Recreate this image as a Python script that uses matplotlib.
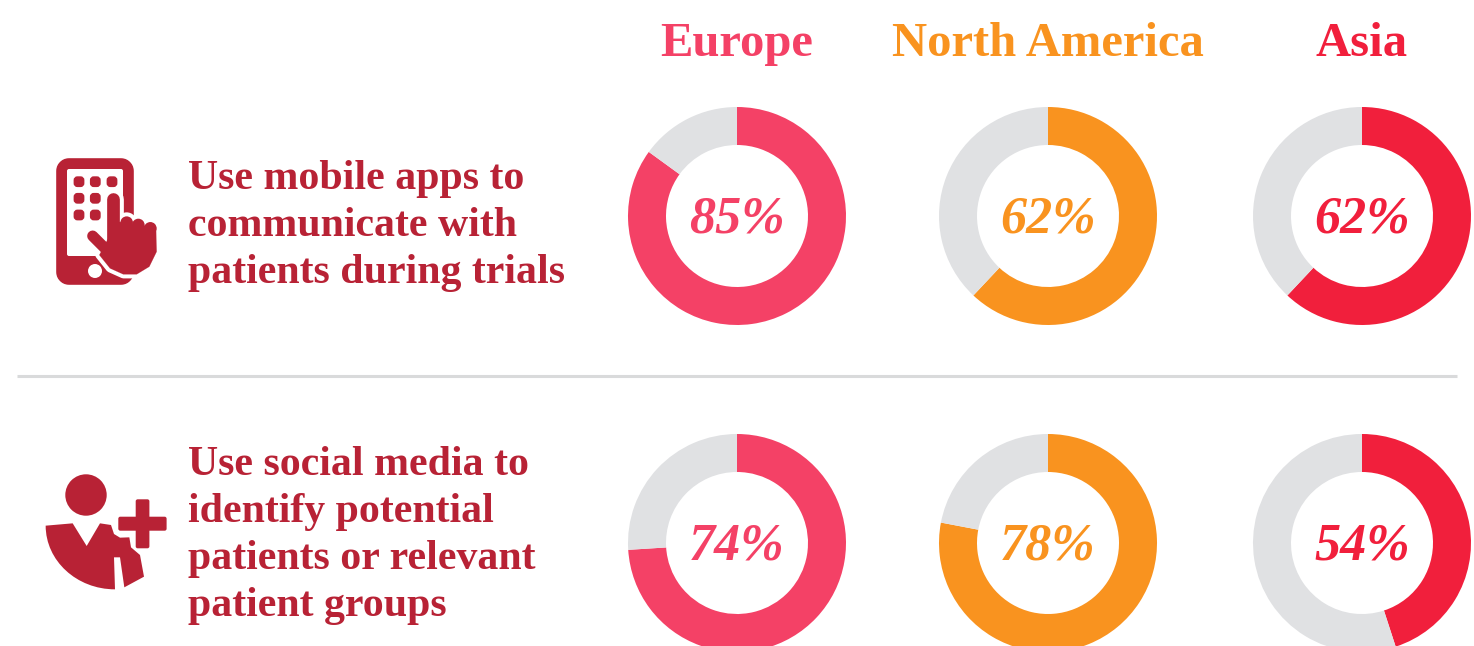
import matplotlib
matplotlib.use("Agg")
import matplotlib.pyplot as plt
from matplotlib.patches import Circle, FancyBboxPatch, PathPatch
from matplotlib.path import Path

W, H = 1474, 646
regions = ["Europe", "North America", "Asia"]
region_colors = ["#f44166", "#f9931f", "#f11f3c"]
rest_color = "#e0e1e3"
text_color = "#b82235"
row_labels = [
    ["Use mobile apps to", "communicate with", "patients during trials"],
    ["Use social media to", "identify potential", "patients or relevant", "patient groups"],
]
# label values as printed, and the share each ring actually shows (the
# 54% ring in the source is drawn at about 45%).
printed_values = [[85, 62, 62], [74, 78, 54]]
ring_values = [[85, 62, 62], [74, 78, 45]]

centre_x = [737, 1048, 1362]
centre_y = [216, 543]
heading_x = [737, 1048, 1362]
R = 109
inner = 71

plt.rcParams["font.family"] = ["Liberation Serif", "DejaVu Serif"]
fig = plt.figure(figsize=(W / 100, H / 100), dpi=100, facecolor="white")
ov = fig.add_axes([0, 0, 1, 1])
ov.set_xlim(0, W)
ov.set_ylim(H, 0)
ov.axis("off")

for name, col, x in zip(regions, region_colors, heading_x):
    ov.text(x, 56, name, color=col, fontsize=35, fontweight="bold", ha="center", va="baseline")

baselines = [[189, 236, 283], [475, 522, 569, 616]]
for lines, ys in zip(row_labels, baselines):
    for line, y in zip(lines, ys):
        ov.text(188, y, line, color=text_color, fontsize=30.2, fontweight="bold", ha="left", va="baseline")

ov.plot([17, 1457], [376, 376], color="#d9dadb", lw=2.2, solid_capstyle="butt")

for r, cy in enumerate(centre_y):
    for c, cx in enumerate(centre_x):
        ax = fig.add_axes([(cx - R) / W, 1 - (cy + R) / H, 2 * R / W, 2 * R / H])
        v = ring_values[r][c]
        ax.pie([v, 100 - v], colors=[region_colors[c], rest_color], startangle=90,
               counterclock=False, radius=1,
               wedgeprops=dict(width=(R - inner) / R, linewidth=0))
        ax.set_xlim(-1, 1)
        ax.set_ylim(-1, 1)
        ax.text(0, 0.02, f"{printed_values[r][c]}%", color=region_colors[c], fontsize=37.5,
                fontweight="bold", fontstyle="italic", ha="center", va="center_baseline")
        for w in ax.patches:
            w.set_clip_on(False)


def zp(points, ox, oy):
    return [(ox + a / 3, oy + b / 3) for a, b in points]


# phone icon
ov.add_patch(FancyBboxPatch((68, 170), 54, 103, boxstyle="round,pad=0,rounding_size=1", fc=text_color, ec=text_color, lw=17, joinstyle="round"))
ov.add_patch(FancyBboxPatch((67, 169), 56, 87, boxstyle="round,pad=0,rounding_size=2", fc="white", ec="none"))
ov.add_patch(Circle((95, 271), 7, fc="white", ec="none"))
for i, x in enumerate([79, 95.3, 112]):
    for j, y in enumerate([181.7, 198.3, 215]):
        if j == 2 and i == 2:
            continue
        ov.add_patch(FancyBboxPatch((x - 4, y - 4), 8, 8, boxstyle="round,pad=0,rounding_size=2.5", fc=text_color, ec=text_color, lw=2))

# hand: finger, thumb, knuckles and palm, first as a white halo and then solid
palm = zp([(232, 300), (262, 245), (378, 262), (380, 335), (358, 380), (320, 403), (280, 403), (240, 385), (208, 345)], 30, 140)
finger = zp([(249, 178), (249, 300)], 30, 140)
thumb = zp([(188, 288), (240, 340)], 30, 140)
knuckles = zp([(290, 248), (325, 255), (361, 265)], 30, 140)
for colour, grow, z in (("white", 4, 3), (text_color, 0, 4)):
    ov.fill(*zip(*palm), fc=colour, ec=colour, lw=grow * 1.44 + 0.1, joinstyle="round", zorder=z)
    for seg, width in ((finger, 12.7), (thumb, 11)):
        ov.plot(*zip(*seg), color=colour, lw=(width + 2 * grow) * 0.72, solid_capstyle="round", zorder=z)
    for (x, y) in knuckles:
        ov.add_patch(Circle((x, y), 6.3 + grow, fc=colour, ec="none", zorder=z))

# person icon
ov.add_patch(Circle((86, 495), 20.7, fc=text_color, ec="none"))
body = zp([(47, 197), (128, 190), (170, 258), (210, 190), (243, 195), (252, 222), (270, 233), (298, 232), (303, 262),
           (330, 285), (342, 350), (283, 382), (270, 292), (252, 292), (255, 388)], 30, 460)
verts = body + zp([(140, 388), (47, 302), (47, 197), (47, 197)], 30, 460)
codes = [Path.MOVETO] + [Path.LINETO] * (len(body) - 1) + [Path.CURVE4] * 3 + [Path.CLOSEPOLY]
ov.add_patch(PathPatch(Path(verts, codes), fc=text_color, ec="none"))
ov.add_patch(FancyBboxPatch((118.3, 516.7), 48.3, 14, boxstyle="round,pad=0,rounding_size=2", fc=text_color, ec="none"))
ov.add_patch(FancyBboxPatch((135.7, 499.3), 13.7, 49, boxstyle="round,pad=0,rounding_size=2", fc=text_color, ec="none"))

fig.savefig("out.png", dpi=100, facecolor="white")
